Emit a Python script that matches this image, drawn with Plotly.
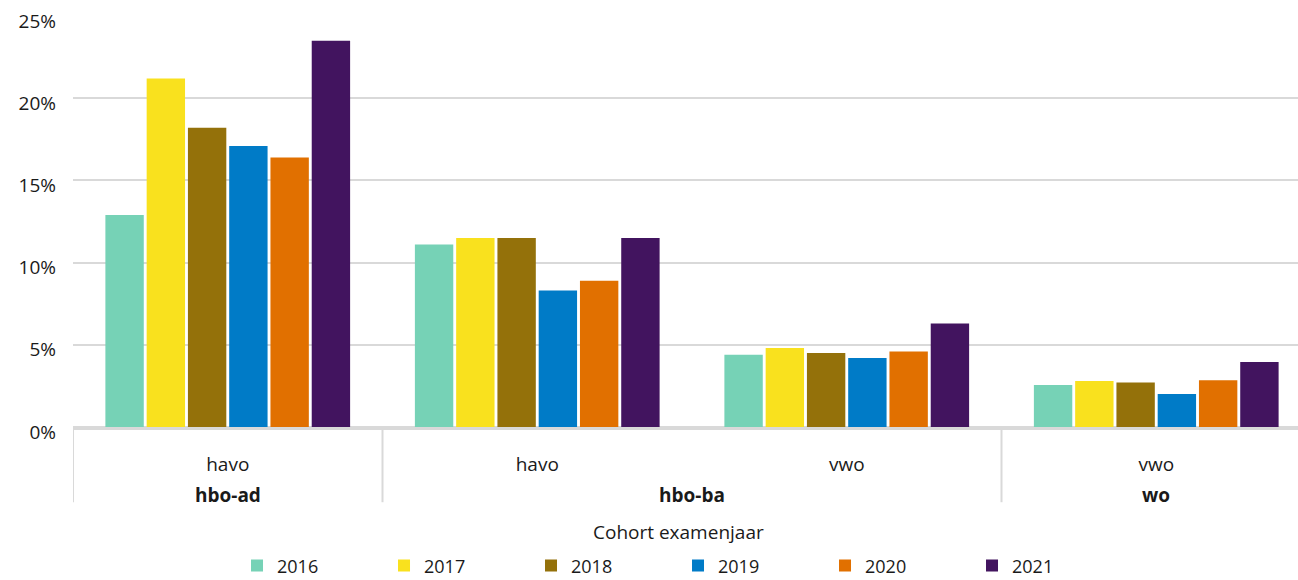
import plotly.graph_objects as go

# Data ------------------------------------------------------------------------
sectors = ['hbo-ad', 'hbo-ba', 'hbo-ba', 'wo']
schools = ['havo', 'havo', 'vwo', 'vwo']
years = ['2016', '2017', '2018', '2019', '2020', '2021']
colors = ['#76D2B6', '#F9E11E', '#94710A', '#007BC7', '#E17000', '#42145F']

v2016 = [12.9, 11.1, 4.4, 2.55]
v2017 = [21.2, 11.5, 4.8, 2.8]
v2018 = [18.2, 11.5, 4.5, 2.7]
v2019 = [17.1, 8.3, 4.2, 2.0]
v2020 = [16.4, 8.9, 4.6, 2.85]
v2021 = [23.5, 11.5, 6.3, 3.95]
values = [v2016, v2017, v2018, v2019, v2020, v2021]

yTicks = [0, 5, 10, 15, 20, 25]

# Plot ------------------------------------------------------------------------
xPos = list(range(len(schools)))
fig = go.Figure()
for yr, clr, vals in zip(years, colors, values):
    fig.add_trace(go.Bar(
        x=xPos, y=vals, name=yr,
        marker=dict(color=clr, line=dict(width=0)),
        customdata=[f'{s} / {c}' for s, c in zip(sectors, schools)],
        hovertemplate='%{customdata}: %{y:.1f}%<extra>' + yr + '</extra>'
    ))

# Outer group labels and dividers ---------------------------------------------
groups = []
for i, s in enumerate(sectors):
    if groups and groups[-1][0] == s:
        groups[-1][2] = i
    else:
        groups.append([s, i, i])
grey = '#d9d9d9'
for s, i0, i1 in groups:
    fig.add_annotation(
        x=(i0 + i1) / 2, y=-0.165, xref='x', yref='paper',
        text=f'<b>{s}</b>', showarrow=False, yanchor='middle',
        font=dict(size=19)
    )
    fig.add_shape(
        type='line', xref='x', yref='paper',
        x0=i0 - 0.5, x1=i0 - 0.5, y0=0, y1=-0.183,
        line=dict(color=grey, width=2)
    )
fig.add_annotation(
    x=0.4887, y=-0.255, xref='paper', yref='paper', text='Cohort examenjaar',
    showarrow=False, yanchor='middle', font=dict(size=19)
)

fnt = 'Open Sans, Lato, sans-serif'
fig.update_layout(
    width=1311, height=580,
    barmode='group', bargap=0.2, bargroupgap=0.07,
    plot_bgcolor='white', paper_bgcolor='white',
    margin=dict(l=73, r=0, t=16, b=153, autoexpand=False),
    font=dict(family=fnt, size=18, color='#1a1a1a'),
    legend=dict(
        orientation='h', x=0.4887, xanchor='center', y=-0.338, yanchor='middle',
        entrywidth=102, font=dict(size=18), itemclick=False
    ),
    xaxis=dict(
        range=[-0.5, len(schools) - 0.5], tickvals=xPos, ticktext=schools,
        showline=True, linecolor=grey, linewidth=3, showgrid=False,
        zeroline=False, tickfont=dict(size=19), ticks='outside',
        ticklen=0, ticklabelstandoff=18, automargin=False, fixedrange=True,
    ),
    yaxis=dict(
        range=[0, 25], tickvals=yTicks, ticktext=[f'{t}%' for t in yTicks],
        showgrid=True, gridcolor=grey, gridwidth=2,
        zeroline=True, zerolinecolor=grey, zerolinewidth=3,
        tickfont=dict(size=19), ticklabelstandoff=16, ticklabelshift=5,
        automargin=False, fixedrange=True,
    ),
)

# keep the page exactly window-sized so the chart is not rescaled
pageCss = (
    "var h=document.documentElement,b=document.body;"
    "h.style.overflow='hidden';h.style.height='580px';h.style.width='1298px';"
    "b.style.margin='0';b.style.overflow='hidden';"
    "b.style.height='580px';b.style.width='1298px';"
)
fig.write_html('out.html', config=dict(displayModeBar=False), post_script=pageCss)
